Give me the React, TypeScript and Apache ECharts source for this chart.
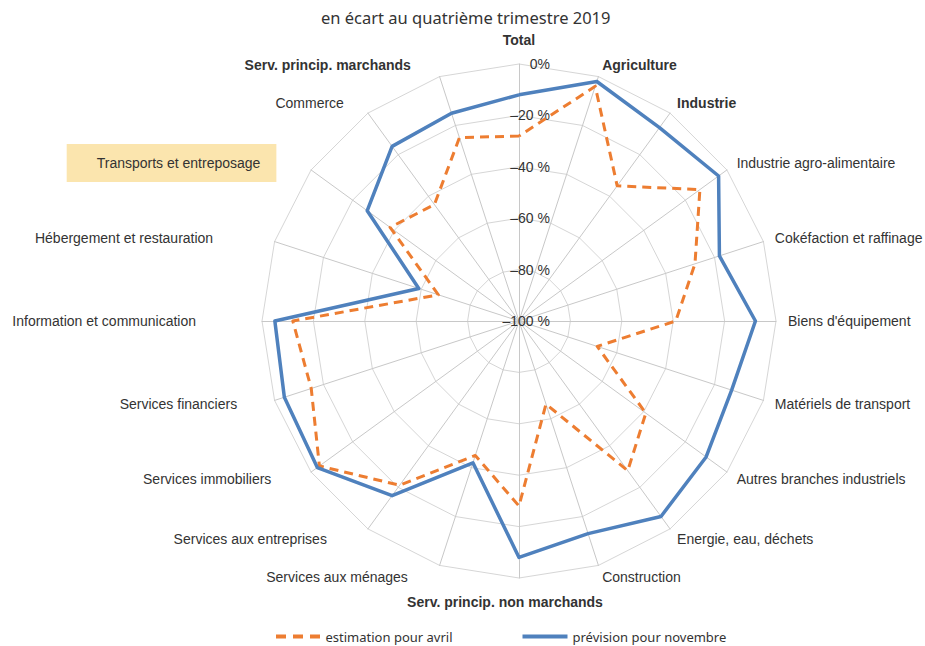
import React, { useEffect, useRef } from "react";
import * as echarts from "echarts";

// ---- data ----
const indicators: string[] = [
  "Total",
  "Agriculture",
  "Industrie",
  "Industrie agro-alimentaire",
  "Cokéfaction et raffinage",
  "Biens d'équipement",
  "Matériels de transport",
  "Autres branches industriels",
  "Energie, eau, déchets",
  "Construction",
  "Serv. princip. non marchands",
  "Services aux ménages",
  "Services aux entreprises",
  "Services immobiliers",
  "Services financiers",
  "Information et communication",
  "Hébergement et restauration",
  "Transports et entreposage",
  "Commerce",
  "Serv. princip. marchands",
];
const estimationAvril: number[] = [
  -28, -4, -35, -13, -28, -39, -68, -39, -28, -66, -28, -45, -21, -4, -15, -12, -67, -38, -44, -25,
];
const previsionNovembre: number[] = [
  -12, -2, -7, -4, -18, -8, -13, -10, -6, -13, -8, -42, -16, -3, -4, -5, -59, -27, -16, -15,
];
const seriesNames: string[] = ["estimation pour avril", "prévision pour novembre"];
const tickValues: number[] = [-100, -80, -60, -40, -20, 0];
const tickLabels: string[] = ["–100 %", "–80 %", "–60 %", "–40 %", "–20 %", "0%"];
const boldNames: string[] = [
  "Total",
  "Agriculture",
  "Industrie",
  "Serv. princip. non marchands",
  "Serv. princip. marchands",
];
const highlightedName = "Transports et entreposage";
const titleText = "en écart au quatrième trimestre 2019";

// ---- layout / style ----
const nameShift: Record<string, number> = {
  "Serv. princip. marchands": 25,
  Commerce: 17,
  "Transports et entreposage": 25,
  "Hébergement et restauration": 50,
  "Information et communication": 54,
  "Services financiers": 26,
  "Services immobiliers": 30,
  "Services aux entreprises": 34,
  "Services aux ménages": 28,
  "Serv. princip. non marchands": 28,
};
const nameVPad: Record<string, number[]> = {
  Total: [0, 0, 5, 0],
  "Serv. princip. non marchands": [5, 0, 0, 0],
};
const ORANGE = "#ED7D31";
const BLUE = "#4F81BD";
const TEXT = "#333333";
const LABEL_FONT = "'Liberation Sans', Arial, sans-serif";
const TITLE_FONT = "'Noto Sans', 'DejaVu Sans', sans-serif";
const FS = 14;

// ECharts radar runs counter-clockwise; reorder so the axes go clockwise.
const clockwise = <T,>(arr: T[]): T[] => [arr[0], ...arr.slice(1).reverse()];

export default function App() {
  const ref = useRef<HTMLDivElement>(null);

  useEffect(() => {
    if (!ref.current) return;
    const chart = echarts.init(ref.current, undefined, { renderer: "svg" });

    const rich: Record<string, any> = {};
    indicators.forEach((name, i) => {
      const st: any = { fontSize: FS, fontFamily: LABEL_FONT, color: TEXT };
      if (boldNames.indexOf(name) >= 0) st.fontWeight = "bold";
      if (name === highlightedName) {
        st.backgroundColor = "#FBE5AE";
        st.padding = [12, 16, 12, 30];
      }
      if (nameVPad[name]) st.padding = nameVPad[name];
      rich["t" + i] = st;
      const w = nameShift[name];
      if (w) rich["s" + i] = { width: w, fontSize: FS, fontFamily: LABEL_FONT };
    });

    const names = clockwise(indicators);

    const option: any = {
      animation: false,
      title: {
        text: titleText,
        left: 321,
        top: 9,
        padding: 0,
        textStyle: { fontSize: 16.5, fontWeight: "normal", color: TEXT, fontFamily: TITLE_FONT },
      },
      legend: {
        left: 276,
        top: 630,
        padding: 0,
        itemGap: 70,
        itemWidth: 45,
        itemHeight: 4,
        textStyle: { fontSize: 13, color: TEXT, fontFamily: TITLE_FONT },
        data: [
          {
            name: seriesNames[0],
            icon: "path://M0,0h10v4h-10z M17,0h10v4h-10z M34,0h10v4h-10z",
            itemStyle: { color: ORANGE, borderWidth: 0 },
          },
          {
            name: seriesNames[1],
            icon: "rect",
            itemStyle: { color: BLUE, borderWidth: 0 },
          },
        ],
      },
      radar: {
        center: [519, 321],
        radius: 257,
        startAngle: 90,
        shape: "polygon",
        splitNumber: 5,
        nameGap: 12,
        axisName: {
          color: TEXT,
          fontSize: FS,
          fontFamily: LABEL_FONT,
          formatter: (name: string) => {
            const i = indicators.indexOf(name);
            return `{t${i}|${name}}` + (nameShift[name] ? `{s${i}| }` : "");
          },
          rich,
        },
        axisLine: { lineStyle: { color: "#C8C8C8", width: 1 } },
        splitLine: { lineStyle: { color: "#D6D6D6", width: 1 } },
        splitArea: { show: false },
        axisTick: { show: false },
        axisLabel: { show: false },
        indicator: names.map((name, i) =>
          i === 0
            ? {
                name,
                min: -100,
                max: 0,
                axisLabel: {
                  show: true,
                  color: TEXT,
                  fontSize: FS,
                  fontFamily: LABEL_FONT,
                  align: "right",
                  margin: -31,
                  formatter: (v: number) => {
                    const k = tickValues.indexOf(Math.round(v));
                    return k >= 0 ? tickLabels[k] : "";
                  },
                },
              }
            : { name, min: -100, max: 0 }
        ),
      },
      series: [
        {
          type: "radar",
          symbol: "none",
          data: [
            {
              name: seriesNames[0],
              value: clockwise(estimationAvril),
              itemStyle: { color: ORANGE },
              lineStyle: { color: ORANGE, width: 3, type: [9, 6] },
            },
            {
              name: seriesNames[1],
              value: clockwise(previsionNovembre),
              itemStyle: { color: BLUE },
              lineStyle: { color: BLUE, width: 3.5, type: "solid" },
            },
          ],
        },
      ],
    };
    chart.setOption(option);
    return () => chart.dispose();
  }, []);

  return (
    <div
      ref={ref}
      style={{ position: "fixed", left: 0, top: 0, width: 925, height: 646, background: "#fff" }}
    />
  );
}
